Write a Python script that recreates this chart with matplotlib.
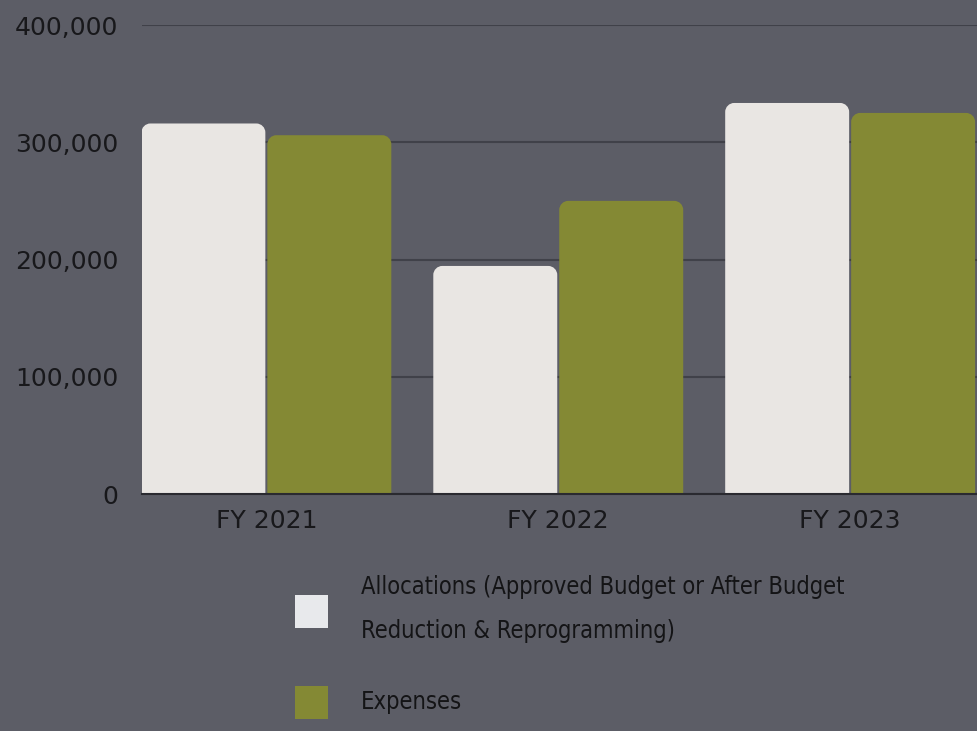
import matplotlib.pyplot as plt
from matplotlib.patches import PathPatch, Rectangle
from matplotlib.path import Path
import numpy as np

# Data
years = ['FY 2021', 'FY 2022', 'FY 2023']
allocations = [316000, 194500, 333500]
expenses = [306000, 250000, 325000]
series_labels = ['Allocations (Approved Budget or After Budget\nReduction & Reprogramming)',
                 'Expenses']
y_ticks = [0, 100000, 200000, 300000, 400000]

bg = '#5c5d66'
alloc_color = '#e9e6e3'
exp_color = '#848934'
text_color = '#141416'


def rounded_top(x0, w, h, rx, ry):
    """Bar path with rounded top corners (data units)."""
    k = 0.5523
    verts = [(x0, 0), (x0, h - ry),
             (x0, h - ry + k * ry), (x0 + rx - k * rx, h), (x0 + rx, h),
             (x0 + w - rx, h),
             (x0 + w - rx + k * rx, h), (x0 + w, h - ry + k * ry), (x0 + w, h - ry),
             (x0 + w, 0), (x0, 0)]
    codes = [Path.MOVETO, Path.LINETO,
             Path.CURVE4, Path.CURVE4, Path.CURVE4,
             Path.LINETO,
             Path.CURVE4, Path.CURVE4, Path.CURVE4,
             Path.LINETO, Path.CLOSEPOLY]
    return Path(verts, codes)


fig = plt.figure(figsize=(9.78, 7.31), dpi=100, facecolor=bg)
ax = fig.add_axes([142 / 978, 237 / 731, 836 / 978, 469 / 731])
ax.set_facecolor(bg)

x = np.arange(len(years))
bw = 124 / 292
gap = 2 / 292
rx = 9 / 292
ry = 9 / 1.1725 * 1000

for xi, a, e in zip(x, allocations, expenses):
    ax.add_patch(PathPatch(rounded_top(xi - bw - gap / 2, bw, a, rx, ry),
                           facecolor=alloc_color, edgecolor='none', zorder=3))
    ax.add_patch(PathPatch(rounded_top(xi + gap / 2, bw, e, rx, ry),
                           facecolor=exp_color, edgecolor='none', zorder=3))

ax.set_xlim(-0.426, 2.438)
ax.set_ylim(0, 400000)
ax.set_yticks(y_ticks)
ax.set_yticklabels([f'{v:,}' for v in y_ticks])
ax.set_xticks(x)
ax.set_xticklabels(years)
ax.yaxis.grid(True, color='#404149', linewidth=1.5, zorder=0)
ax.set_axisbelow(True)
for s in ['top', 'right', 'left']:
    ax.spines[s].set_visible(False)
ax.spines['bottom'].set_color('#2a2a30')
ax.spines['bottom'].set_linewidth(1.5)
ax.spines['bottom'].set_zorder(4)
ax.tick_params(axis='both', length=0, labelcolor='#18181b', labelsize=18)
ax.tick_params(axis='y', pad=17)
ax.tick_params(axis='x', pad=11)
for lab in ax.get_xticklabels() + ax.get_yticklabels():
    lab.set_fontfamily('DejaVu Sans')
    lab.set_fontweight('normal')
    lab.set_fontstretch('normal')

# Manual legend
sq = 33
for lab, col, ytop, ytext in zip(series_labels, ['#e8e9ec', exp_color],
                                 [595, 686], [609, 702]):
    fig.add_artist(Rectangle((295 / 978, 1 - (ytop + sq) / 731), sq / 978, sq / 731,
                             transform=fig.transFigure, facecolor=col, edgecolor='none'))
    fig.text(361 / 978, 1 - ytext / 731, lab, ha='left', va='center',
             fontsize=17, color=text_color, family='DejaVu Sans',
             fontstretch='condensed', linespacing=2.1)

fig.savefig('out.png', dpi=100, facecolor=bg)
